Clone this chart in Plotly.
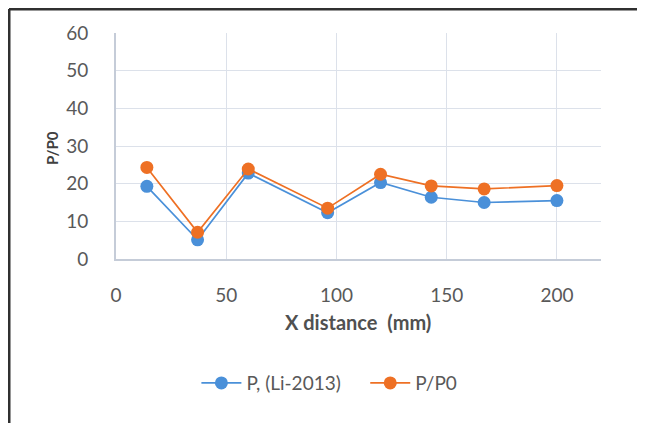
import plotly.graph_objects as go

x_dist = [14, 37, 60, 96, 120, 143, 167, 200]
p_li2013 = [19.3, 5.1, 22.8, 12.3, 20.3, 16.4, 15.0, 15.5]
p_p0 = [24.3, 7.1, 23.9, 13.5, 22.5, 19.4, 18.6, 19.5]

series_names = ["P, (Li-2013)\u00a0\u00a0\u00a0\u00a0", "P/P0"]
colors = ["#4A90D9", "#EE7024"]

FONT = "Lato"
TXT = "#595959"

fig = go.Figure()
for name, vals, col in zip(series_names, [p_li2013, p_p0], colors):
    fig.add_trace(go.Scatter(
        x=x_dist, y=vals, name=name, mode="lines+markers",
        line=dict(color=col, width=1.7),
        marker=dict(color=col, size=13),
    ))

fig.update_layout(
    width=645, height=423,
    margin=dict(l=108, r=52, t=25, b=172),
    paper_bgcolor="white", plot_bgcolor="white",
    font=dict(family=FONT, color=TXT, size=19),
    showlegend=True,
    legend=dict(orientation="h", x=0.44, xanchor="center", y=-0.549, yanchor="middle",
                font=dict(size=19, color=TXT), itemwidth=40),
    xaxis=dict(range=[0, 220], tickvals=[0, 50, 100, 150, 200], showgrid=True,
               gridcolor="#DCE1EA", gridwidth=1.4, zeroline=False,
               showline=True, linecolor="#C5CCD8", linewidth=1.6,
               ticks="", tickfont=dict(size=19, color=TXT), ticklabelstandoff=18),
    yaxis=dict(range=[0, 60], tickvals=[0, 10, 20, 30, 40, 50, 60], showgrid=True,
               gridcolor="#DCE1EA", gridwidth=1.4, zeroline=False,
               showline=True, linecolor="#C5CCD8", linewidth=1.6,
               ticks="", tickfont=dict(size=19, color=TXT), ticklabelstandoff=22),
    annotations=[
        dict(text="<b>X distance  (mm)</b>", xref="paper", yref="paper",
             x=0.499, y=-0.279, xanchor="center", yanchor="middle", showarrow=False,
             font=dict(size=20, color="#505050")),
        dict(text="<b>P/P0</b>", xref="paper", yref="paper", textangle=-90,
             x=-0.132, y=0.491, xanchor="center", yanchor="middle", showarrow=False,
             font=dict(size=15, color="#404040")),
    ],
    shapes=[
        dict(type="line", xref="paper", yref="paper", x0=-0.2206, x1=-0.2206, y0=1.106, y1=-0.8,
             line=dict(color="#303030", width=3)),
        dict(type="line", xref="paper", yref="paper", x0=-0.2206, x1=1.0887, y0=1.106, y1=1.106,
             line=dict(color="#303030", width=3)),
        dict(type="line", xref="paper", yref="paper", x0=1.0887, x1=1.0887, y0=1.106, y1=-0.8,
             line=dict(color="#E2E2E2", width=2)),
    ],
)

fig.write_html("out.html")
